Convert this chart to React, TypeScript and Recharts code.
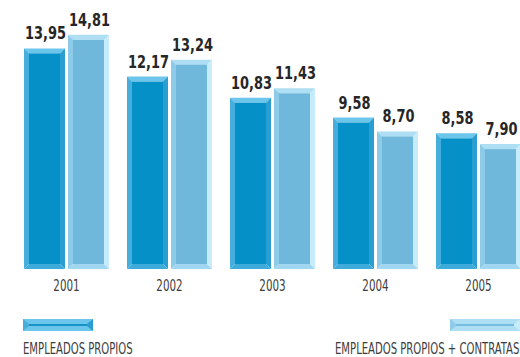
import React from "react";
import { BarChart, Bar, XAxis, YAxis, LabelList } from "recharts";

const years = ["2001", "2002", "2003", "2004", "2005"];
const propios = [13.95, 12.17, 10.83, 9.58, 8.58];
const contratas = [14.81, 13.24, 11.43, 8.7, 7.9];
const seriesNames = ["EMPLEADOS PROPIOS", "EMPLEADOS PROPIOS + CONTRATAS"];

const data = years.map((y, i) => ({ year: y, propios: propios[i], contratas: contratas[i] }));

const FONT = "'Liberation Sans Narrow', 'DejaVu Sans Condensed', 'Arial Narrow', sans-serif";

const PAL_P = { inner: "#0590c7", top: "#6cc5ea", left: "#45aedd", right: "#2a9dd1", bottom: "#3eabdb" };
const PAL_C = { inner: "#6fb8db", top: "#addef3", left: "#8dcbe8", right: "#c6ebfa", bottom: "#a0d6ef" };

const BevelBar = (props: any) => {
  const { x, y, width, height, pal } = props;
  if (!height || height <= 0) return null;
  const b = 5;
  const x2 = x + width;
  const y2 = y + height;
  return (
    <g>
      <polygon points={`${x},${y} ${x2},${y} ${x2 - b},${y + b} ${x + b},${y + b}`} fill={pal.top} />
      <polygon points={`${x},${y} ${x + b},${y + b} ${x + b},${y2 - b} ${x},${y2}`} fill={pal.left} />
      <polygon points={`${x2},${y} ${x2},${y2} ${x2 - b},${y2 - b} ${x2 - b},${y + b}`} fill={pal.right} />
      <polygon points={`${x},${y2} ${x + b},${y2 - b} ${x2 - b},${y2 - b} ${x2},${y2}`} fill={pal.bottom} />
      <rect x={x + b} y={y + b} width={width - 2 * b} height={height - 2 * b} fill={pal.inner} />
    </g>
  );
};

const YearTick = (props: any) => {
  const { x, y, payload } = props;
  return (
    <text
      transform={`translate(${x},${y + 14}) scale(0.72,1)`}
      textAnchor="middle"
      fontFamily={FONT}
      fontSize={16}
      fill="#3d3d3d"
    >
      {payload.value}
    </text>
  );
};

const ValueLabel = (props: any) => {
  const { x, y, width, value } = props;
  return (
    <text
      transform={`translate(${x + width / 2 + 1},${y - 9}) scale(0.9,1.05)`}
      textAnchor="middle"
      fontFamily={FONT}
      fontSize={16}
      fontWeight={700}
      fill="#262626"
    >
      {Number(value).toFixed(2).replace(".", ",")}
    </text>
  );
};

const Swatch = ({ pal, line }: { pal: any; line: string }) => (
  <svg width={70} height={12} style={{ display: "block" }}>
    <rect x={0} y={0} width={70} height={12} fill={pal.top} />
    <polygon points="0,0 6,5 6,7 0,12" fill={pal.left} />
    <polygon points="70,0 64,5 64,7 70,12" fill={pal.right} />
    <rect x={6} y={5} width={58} height={2} fill={line} />
  </svg>
);

const legendText: React.CSSProperties = {
  position: "absolute",
  fontFamily: FONT,
  fontSize: 16,
  color: "#3d3d3d",
  whiteSpace: "nowrap",
  lineHeight: "16px",
};

export default function App() {
  return (
    <div style={{ position: "absolute", left: 0, top: 0, width: 520, height: 357, overflow: "hidden", background: "#fff" }}>
      <BarChart
        width={540}
        height={300}
        data={data}
        margin={{ top: 16, left: 15, right: 10, bottom: 0 }}
        barCategoryGap={9}
        barGap={3}
      >
        <XAxis dataKey="year" axisLine={false} tickLine={false} height={31} tick={<YearTick />} interval={0} />
        <YAxis hide domain={[0, 16]} />
        <Bar dataKey="propios" isAnimationActive={false} shape={(p: any) => <BevelBar {...p} pal={PAL_P} />}>
          <LabelList dataKey="propios" content={<ValueLabel />} />
        </Bar>
        <Bar dataKey="contratas" isAnimationActive={false} shape={(p: any) => <BevelBar {...p} pal={PAL_C} />}>
          <LabelList dataKey="contratas" content={<ValueLabel />} />
        </Bar>
      </BarChart>
      <div style={{ position: "absolute", left: 23, top: 319 }}>
        <Swatch pal={PAL_P} line="#1793ca" />
      </div>
      <div style={{ ...legendText, left: 23, top: 341, transform: "scaleX(0.70)", transformOrigin: "left top" }}>
        {seriesNames[0]}
      </div>
      <div style={{ position: "absolute", left: 450, top: 319 }}>
        <Swatch pal={PAL_C} line="#74bde0" />
      </div>
      <div style={{ ...legendText, right: 1, top: 341, transform: "scaleX(0.70)", transformOrigin: "right top" }}>
        {seriesNames[1]}
      </div>
    </div>
  );
}
